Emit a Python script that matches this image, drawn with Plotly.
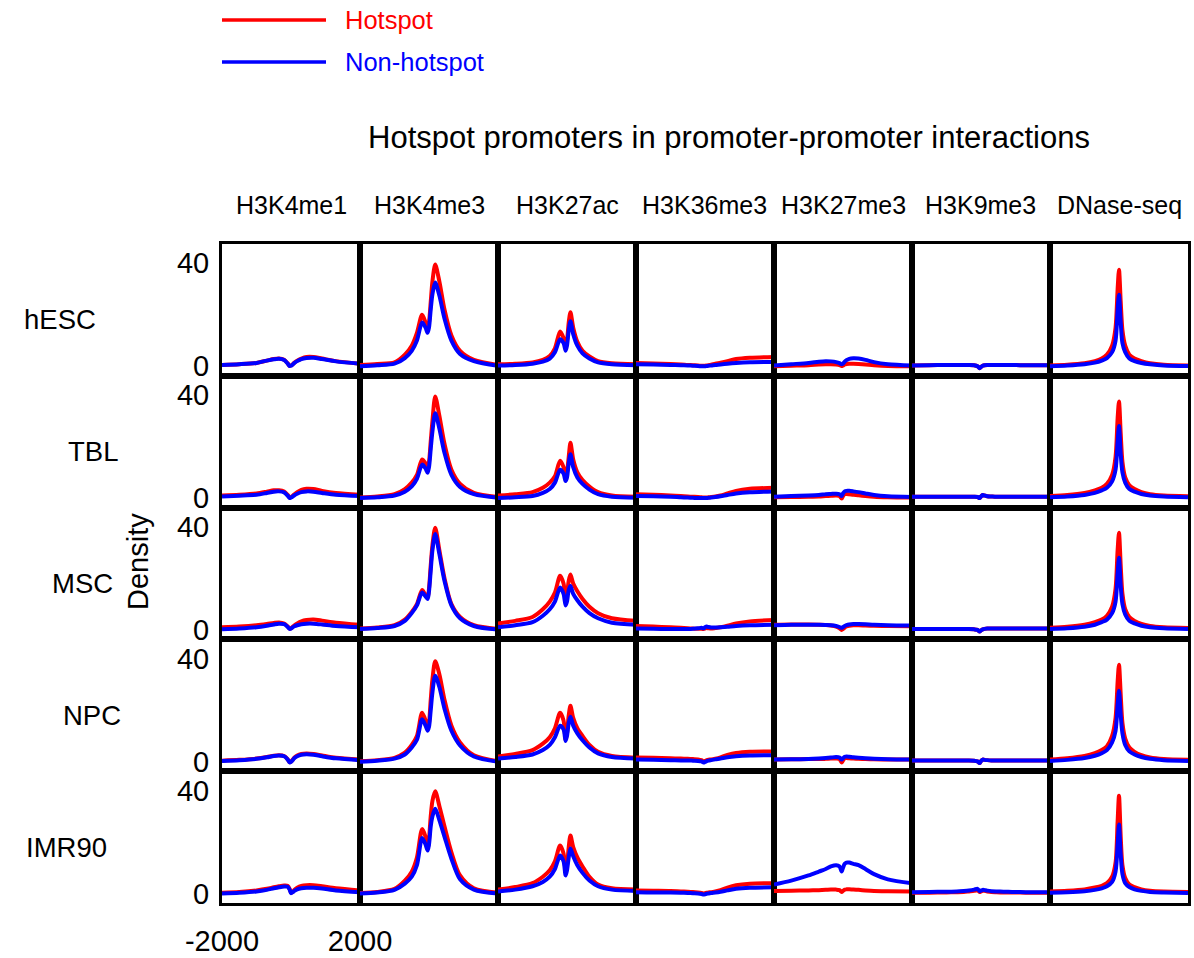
import plotly.graph_objects as go

# Histone marks / DNase profiles around promoters, five cell types
CELLS = ["hESC", "TBL", "MSC", "NPC", "IMR90"]
MARKS = ["H3K4me1", "H3K4me3", "H3K27ac", "H3K36me3", "H3K27me3", "H3K9me3", "DNase-seq"]

# distance to TSS (bp)
POS = [-2000, -1500, -1000, -700, -500, -350, -200, -100, -40, 0, 50, 100, 180, 300, 450, 650, 900, 1300, 2000]

Y_TICKS = [0, 40]
X_TICKS = [-2000, 2000]

# one list per mark (column order of MARKS)
HESC_HOT = [
    [0.5, 0.8, 1.3, 2.2, 2.8, 3.0, 2.5, 1.2, 0.2, 0.3, 0.8, 1.4, 2.2, 3.0, 3.6, 3.6, 3.0, 2.0, 1.0],
    [0.5, 0.9, 1.5, 4.5, 8, 13, 20, 17, 14.5, 17, 25, 33, 39.5, 33, 22, 12, 6, 2.5, 0.5],
    [0.8, 1.0, 1.5, 2.5, 4, 7, 13.5, 11, 8, 10, 17, 21, 15, 9.5, 6, 3.8, 2, 1.2, 0.8],
    [1.3, 1.1, 0.9, 0.7, 0.5, 0.4, 0.3, 0.2, 0.2, 0.2, 0.3, 0.4, 0.6, 1.0, 1.4, 2.0, 2.8, 3.3, 3.6],
    [0.0, 0.2, 0.4, 0.7, 0.8, 0.8, 0.7, 0.5, 0.1, 0.3, 0.7, 0.9, 1.0, 1.0, 0.9, 0.7, 0.4, 0.1, 0.0],
    [0.3, 0.4, 0.5, 0.5, 0.5, 0.5, 0.4, 0.0, -0.8, -0.3, 0.2, 0.4, 0.5, 0.5, 0.5, 0.5, 0.5, 0.4, 0.4],
    [0.3, 0.6, 1.2, 2.0, 3.0, 4.5, 8, 15, 30, 37.5, 25, 14, 8, 4.5, 3, 2, 1.2, 0.6, 0.3],
]
HESC_NON = [
    [0.5, 0.8, 1.3, 2.2, 2.7, 2.9, 2.4, 1.1, 0.1, 0.2, 0.7, 1.3, 2.0, 2.8, 3.2, 3.3, 2.8, 1.9, 1.0],
    [0.0, 0.4, 1.0, 3.2, 6, 10, 17, 15, 13, 15, 22, 28, 32.5, 27.5, 18.5, 10, 4.8, 2, 0.2],
    [0.3, 0.5, 1, 1.8, 3, 5.5, 10.5, 9, 6, 8, 14, 17.5, 12.5, 8, 5, 3, 1.5, 0.8, 0.4],
    [0.8, 0.7, 0.5, 0.4, 0.3, 0.2, 0.1, 0.0, 0.0, 0.0, 0.1, 0.2, 0.3, 0.5, 0.7, 1.0, 1.3, 1.6, 1.7],
    [0.3, 0.8, 1.3, 1.8, 2.0, 1.9, 1.6, 1.2, 0.8, 1.0, 1.8, 2.4, 2.9, 3.1, 3.0, 2.5, 1.6, 0.8, 0.3],
    [0.3, 0.4, 0.5, 0.5, 0.5, 0.5, 0.4, 0.0, -0.8, -0.3, 0.2, 0.4, 0.5, 0.5, 0.5, 0.5, 0.5, 0.4, 0.4],
    [0.0, 0.3, 0.8, 1.4, 2.2, 3.2, 5.5, 10, 22, 27.8, 17, 9, 5.5, 3, 2, 1.3, 0.8, 0.3, 0.1],
]

TBL_HOT = [
    [1.0, 1.3, 1.8, 2.5, 3.0, 3.0, 2.5, 1.3, 0.3, 0.4, 0.9, 1.5, 2.3, 3.2, 3.6, 3.5, 2.8, 2.0, 1.3],
    [0.2, 0.6, 1.5, 3.5, 6, 9, 15, 13.5, 11.8, 14, 22, 30, 39.5, 32, 21, 11, 5.5, 2, 0.4],
    [1.0, 1.5, 2.3, 4.0, 6.0, 8.5, 14.5, 12, 8, 10, 16, 21.5, 15, 10, 7, 4.5, 2.3, 1, 0.5],
    [1.5, 1.3, 1.0, 0.8, 0.6, 0.5, 0.4, 0.3, 0.2, 0.2, 0.2, 0.3, 0.4, 0.6, 1.0, 1.8, 2.8, 3.6, 4.0],
    [0.3, 0.4, 0.5, 0.6, 0.8, 0.9, 1.0, 0.8, -0.2, 0.8, 1.5, 1.6, 1.5, 1.3, 1.1, 0.8, 0.5, 0.3, 0.2],
    [0.5, 0.5, 0.5, 0.5, 0.5, 0.5, 0.5, 0.4, 0.0, 0.6, 1.2, 1.0, 0.7, 0.6, 0.5, 0.5, 0.5, 0.5, 0.5],
    [0.8, 1.2, 2.0, 3.0, 4.0, 5.5, 9, 16, 31, 37.5, 25, 14, 8, 5, 3.5, 2.3, 1.5, 1.0, 0.7],
]
TBL_NON = [
    [0.6, 0.9, 1.3, 2.0, 2.5, 2.6, 2.2, 1.0, 0.0, 0.2, 0.6, 1.1, 1.7, 2.3, 2.6, 2.5, 2.0, 1.3, 0.8],
    [0.0, 0.3, 1.0, 2.5, 4.5, 7.5, 13, 11.5, 9.8, 12, 19, 26, 33, 27, 17.5, 9, 4.3, 1.5, 0.1],
    [0.0, 0.3, 0.8, 2.0, 3.5, 6, 11, 9.5, 6.6, 8, 13.5, 17, 12, 8, 5.5, 3.3, 1.5, 0.5, 0.1],
    [0.8, 0.7, 0.5, 0.3, 0.2, 0.1, 0.0, 0.0, 0.0, 0.0, 0.0, 0.1, 0.2, 0.4, 0.7, 1.2, 1.8, 2.3, 2.6],
    [0.5, 0.8, 1.0, 1.2, 1.5, 1.6, 1.7, 1.5, 0.8, 1.8, 2.6, 2.8, 2.8, 2.6, 2.3, 1.8, 1.2, 0.7, 0.4],
    [0.5, 0.5, 0.5, 0.5, 0.5, 0.5, 0.5, 0.4, 0.0, 0.6, 1.2, 1.0, 0.7, 0.6, 0.5, 0.5, 0.5, 0.5, 0.5],
    [0.3, 0.6, 1.2, 2.0, 3.0, 4.0, 6.5, 11, 22, 28, 17, 10, 6, 3.5, 2.5, 1.6, 1.0, 0.6, 0.3],
]

MSC_HOT = [
    [1.0, 1.3, 1.8, 2.3, 2.7, 2.9, 2.5, 1.4, 0.5, 0.6, 1.2, 1.8, 2.5, 3.3, 3.8, 4.0, 3.6, 2.8, 2.0],
    [0.5, 0.9, 1.8, 4.0, 7, 10, 15.5, 13.5, 12.5, 16, 25, 33, 39.7, 31, 20, 10, 5, 1.8, 0.3],
    [2.5, 3.5, 5, 8, 11, 14.5, 21, 18, 12, 14, 19, 21.5, 18, 15, 12, 9, 6.5, 4.5, 3.5],
    [1.5, 1.3, 1.0, 0.8, 0.6, 0.5, 0.4, 0.4, 0.3, 0.5, 0.7, 0.6, 0.5, 0.7, 1.0, 1.6, 2.5, 3.3, 3.8],
    [2.0, 2.1, 2.1, 2.0, 1.9, 1.7, 1.3, 0.6, 0.0, 0.3, 0.9, 1.3, 1.6, 1.8, 1.8, 1.7, 1.6, 1.5, 1.4],
    [0.3, 0.3, 0.3, 0.3, 0.3, 0.3, 0.2, 0.0, -0.6, -0.2, 0.2, 0.4, 0.5, 0.5, 0.5, 0.5, 0.5, 0.5, 0.5],
    [0.8, 1.2, 2.0, 3.0, 4.0, 5.5, 9, 16, 31, 37.7, 25, 14, 8, 5, 3.5, 2.3, 1.5, 1.0, 0.7],
]
MSC_NON = [
    [0.2, 0.5, 1.0, 1.6, 2.1, 2.4, 2.2, 1.2, 0.4, 0.5, 1.0, 1.4, 1.8, 2.2, 2.4, 2.4, 2.1, 1.5, 1.0],
    [0.3, 0.7, 1.5, 3.5, 6.5, 9.5, 14.5, 13, 12, 15, 23, 31, 37.2, 29.5, 19, 9.5, 4.5, 1.5, 0.1],
    [1.0, 1.8, 3.0, 5.5, 8, 11, 16.5, 14, 9.5, 11, 15.5, 17, 14, 11.5, 9, 6.5, 4.5, 2.8, 2.0],
    [0.5, 0.4, 0.3, 0.3, 0.3, 0.4, 0.6, 0.8, 0.6, 1.0, 1.3, 1.1, 0.9, 0.9, 1.0, 1.2, 1.5, 1.8, 2.0],
    [1.8, 2.0, 2.0, 2.0, 1.9, 1.8, 1.5, 1.1, 0.8, 1.1, 1.5, 1.8, 2.1, 2.3, 2.3, 2.2, 2.0, 1.8, 1.7],
    [0.3, 0.3, 0.3, 0.3, 0.3, 0.3, 0.2, 0.0, -0.6, -0.2, 0.2, 0.4, 0.5, 0.5, 0.5, 0.5, 0.5, 0.5, 0.5],
    [0.3, 0.6, 1.2, 2.0, 3.0, 4.0, 6.5, 11, 22, 28, 17, 10, 6, 3.5, 2.5, 1.6, 1.0, 0.6, 0.3],
]

NPC_HOT = [
    [0.4, 0.7, 1.2, 1.8, 2.3, 2.5, 2.2, 1.0, -0.2, 0.0, 0.8, 1.6, 2.4, 3.0, 3.2, 3.0, 2.4, 1.5, 0.8],
    [0.2, 0.6, 1.5, 3.5, 6.5, 10, 19, 16, 12.7, 15, 24, 32, 39, 34, 24, 14, 7.5, 2.5, 0.2],
    [2.0, 3.0, 4.5, 7, 9.5, 13, 19, 16, 8.5, 11, 18, 21.7, 17, 13, 10, 6.5, 3.8, 2.2, 1.5],
    [1.6, 1.5, 1.3, 1.2, 1.1, 1.0, 0.9, 0.6, 0.2, 0.3, 0.6, 0.8, 0.9, 1.2, 1.7, 2.6, 3.4, 3.9, 4.0],
    [0.8, 0.9, 1.0, 1.0, 1.1, 1.2, 1.2, 1.0, -0.3, 0.5, 1.3, 1.4, 1.3, 1.2, 1.1, 1.0, 0.9, 0.8, 0.8],
    [0.5, 0.5, 0.5, 0.5, 0.5, 0.5, 0.4, 0.1, -0.5, 0.2, 0.8, 0.7, 0.6, 0.5, 0.5, 0.5, 0.5, 0.5, 0.5],
    [0.8, 1.3, 2.2, 3.3, 4.5, 6, 10, 17, 31, 37.7, 26, 15, 9, 5.5, 3.8, 2.5, 1.6, 1.0, 0.7],
]
NPC_NON = [
    [0.3, 0.6, 1.1, 1.7, 2.2, 2.4, 2.1, 0.9, -0.3, -0.1, 0.6, 1.4, 2.1, 2.7, 2.9, 2.7, 2.1, 1.3, 0.6],
    [0.0, 0.4, 1.2, 2.8, 5.5, 8.5, 16.5, 14, 12, 13.5, 20, 27, 33.4, 29, 20.5, 12, 6.3, 2, 0.0],
    [1.2, 1.8, 2.8, 4.5, 6.5, 9.5, 14, 12.5, 8, 10, 15, 17.5, 14, 11, 8.3, 5.5, 3.2, 1.8, 1.2],
    [0.8, 0.7, 0.6, 0.5, 0.5, 0.4, 0.3, 0.1, -0.3, -0.1, 0.2, 0.4, 0.6, 0.9, 1.2, 1.7, 2.1, 2.4, 2.5],
    [0.8, 0.9, 1.0, 1.2, 1.4, 1.6, 1.8, 1.6, 0.8, 1.3, 1.9, 2.0, 1.9, 1.7, 1.5, 1.3, 1.1, 0.9, 0.8],
    [0.5, 0.5, 0.5, 0.5, 0.5, 0.5, 0.4, 0.1, -0.5, 0.2, 0.8, 0.7, 0.6, 0.5, 0.5, 0.5, 0.5, 0.5, 0.5],
    [0.3, 0.7, 1.4, 2.3, 3.3, 4.5, 7.5, 12, 22, 27.6, 18, 11, 6.5, 4, 2.8, 1.8, 1.1, 0.6, 0.3],
]

IMR90_HOT = [
    [0.3, 0.6, 1.2, 1.8, 2.4, 2.8, 3.1, 3.0, 1.8, 0.3, 0.7, 1.4, 2.2, 2.9, 3.2, 3.2, 2.8, 2.0, 1.2],
    [0.2, 0.6, 1.8, 5, 8.5, 14, 25, 22, 17.4, 21, 30, 36, 39.7, 34, 26, 16, 7, 2, 0.3],
    [1.5, 2.5, 4, 6.5, 9, 12.5, 18.6, 15.5, 9, 11, 18, 22.5, 18, 14, 10.5, 6.5, 3.5, 2, 1.5],
    [1.2, 1.1, 1.0, 0.8, 0.7, 0.6, 0.4, 0.2, 0.0, 0.1, 0.3, 0.4, 0.5, 0.8, 1.3, 2.3, 3.2, 3.8, 4.0],
    [1.0, 1.1, 1.2, 1.3, 1.4, 1.5, 1.5, 1.3, 0.6, 1.0, 1.5, 1.6, 1.6, 1.5, 1.4, 1.2, 1.0, 0.9, 0.8],
    [0.3, 0.3, 0.4, 0.5, 0.6, 0.8, 1.0, 1.3, 0.6, 0.8, 1.1, 1.0, 0.8, 0.6, 0.5, 0.4, 0.4, 0.3, 0.3],
    [0.8, 1.1, 1.6, 2.3, 3.0, 4.0, 6.5, 12, 28, 38, 22, 11, 6, 3.5, 2.5, 1.6, 1.1, 0.8, 0.6],
]
IMR90_NON = [
    [0.0, 0.3, 0.8, 1.4, 2.0, 2.4, 2.7, 2.6, 1.5, 0.1, 0.5, 1.0, 1.6, 2.0, 2.2, 2.2, 1.9, 1.2, 0.5],
    [0.0, 0.4, 1.4, 3.8, 6.5, 11, 21.6, 19, 16.7, 19, 26, 30, 32.9, 28.5, 22, 13.5, 5.5, 1.5, 0.0],
    [0.8, 1.5, 2.8, 4.5, 6.5, 9.5, 14.8, 12.5, 7, 9, 14, 17.5, 14.5, 11, 8, 5, 2.8, 1.5, 1],
    [0.5, 0.4, 0.4, 0.3, 0.2, 0.1, 0.0, -0.2, -0.4, -0.3, -0.1, 0.0, 0.2, 0.4, 0.7, 1.2, 1.8, 2.2, 2.4],
    [3.5, 5, 7, 8.5, 9.5, 10.5, 11, 10.5, 8.5, 10, 11.5, 12, 12, 11.5, 11, 9.5, 7.5, 5.5, 4],
    [0.5, 0.6, 0.7, 0.8, 1.0, 1.2, 1.5, 1.8, 0.9, 1.1, 1.4, 1.3, 1.1, 0.9, 0.8, 0.7, 0.6, 0.5, 0.5],
    [0.3, 0.5, 0.9, 1.4, 2.0, 2.8, 4.5, 8.5, 19, 26.8, 15, 7.5, 4, 2.5, 1.6, 1.0, 0.6, 0.4, 0.2],
]

HOT = [HESC_HOT, TBL_HOT, MSC_HOT, NPC_HOT, IMR90_HOT]
NON = [HESC_NON, TBL_NON, MSC_NON, NPC_NON, IMR90_NON]

RED = "#FF0000"
BLUE = "#0000FF"
FONT = "Liberation Sans, Arial, Helvetica, sans-serif"

W, H = 1194, 958
GRID_L, GRID_R, GRID_T, GRID_B = 222, 1188, 244, 903
COL_W = (GRID_R - GRID_L) / len(MARKS)
ROW_H = (GRID_B - GRID_T) / len(CELLS)
Y_RANGE = [-3.7, 47.5]

# horizontal centre of each row label
ROW_LABEL_X = [60, 93, 82, 92, 66]

fig = go.Figure()
layout = {}

for r, cell in enumerate(CELLS):
    for c, mark in enumerate(MARKS):
        k = r * len(MARKS) + c + 1
        xa = "x" if k == 1 else f"x{k}"
        ya = "y" if k == 1 else f"y{k}"
        for series, color, name in ((HOT, RED, "Hotspot"), (NON, BLUE, "Non-hotspot")):
            fig.add_trace(go.Scatter(
                x=POS, y=series[r][c], mode="lines", name=name,
                line=dict(color=color, width=4, shape="spline", smoothing=0.8),
                xaxis=xa, yaxis=ya, showlegend=False, hoverinfo="skip",
            ))
        x0 = (GRID_L + c * COL_W) / W
        x1 = (GRID_L + (c + 1) * COL_W) / W
        y1 = 1 - (GRID_T + r * ROW_H) / H
        y0 = 1 - (GRID_T + (r + 1) * ROW_H) / H
        axis_common = dict(
            showline=True, mirror=True, linecolor="black", linewidth=3,
            showgrid=False, zeroline=False, ticks="", fixedrange=True, automargin=False,
        )
        show_x = (r == len(CELLS) - 1 and c == 0)
        layout["xaxis" if k == 1 else f"xaxis{k}"] = dict(
            domain=[x0, x1], range=[-2000, 2000], anchor=ya,
            tickvals=X_TICKS if show_x else [], ticktext=[str(v) for v in X_TICKS] if show_x else [],
            showticklabels=show_x, ticklabelstandoff=10,
            tickfont=dict(size=29, color="black", family=FONT), **axis_common,
        )
        layout["yaxis" if k == 1 else f"yaxis{k}"] = dict(
            domain=[y0, y1], range=Y_RANGE, anchor=xa,
            tickvals=Y_TICKS if c == 0 else [], showticklabels=(c == 0), ticklabelstandoff=4,
            tickfont=dict(size=29, color="black", family=FONT), **axis_common,
        )


def label(text, x, y, size, color="black", xanchor="center", angle=0):
    return dict(text=text, x=x / W, y=1 - y / H, xref="paper", yref="paper",
                xanchor=xanchor, yanchor="middle", showarrow=False, textangle=angle,
                font=dict(size=size, color=color, family=FONT))


annotations = [label("Hotspot promoters in promoter-promoter interactions", 729, 138, 31)]
for c, mark in enumerate(MARKS):
    annotations.append(label(mark, GRID_L + (c + 0.5) * COL_W, 205, 25))
for r, cell in enumerate(CELLS):
    annotations.append(label(cell, ROW_LABEL_X[r], GRID_T + (r + 0.5) * ROW_H + 10, 27.5))
annotations.append(label("Density", 138, 562, 29, angle=-90))

# legend keys
shapes = []
for i, (name, color) in enumerate((("Hotspot", RED), ("Non-hotspot", BLUE))):
    yy = 20 + 42 * i
    shapes.append(dict(type="line", xref="paper", yref="paper", x0=222 / W, x1=326 / W,
                       y0=1 - yy / H, y1=1 - yy / H, line=dict(color=color, width=3.5)))
    annotations.append(label(name, 343, yy, 25.5, color=color, xanchor="left"))

fig.update_layout(
    width=W, height=H, autosize=False,
    margin=dict(l=0, r=0, t=0, b=0, pad=0),
    paper_bgcolor="white", plot_bgcolor="white",
    font=dict(family=FONT, color="black"),
    annotations=annotations, shapes=shapes, showlegend=False,
    **layout,
)

fig.write_html("out.html")
